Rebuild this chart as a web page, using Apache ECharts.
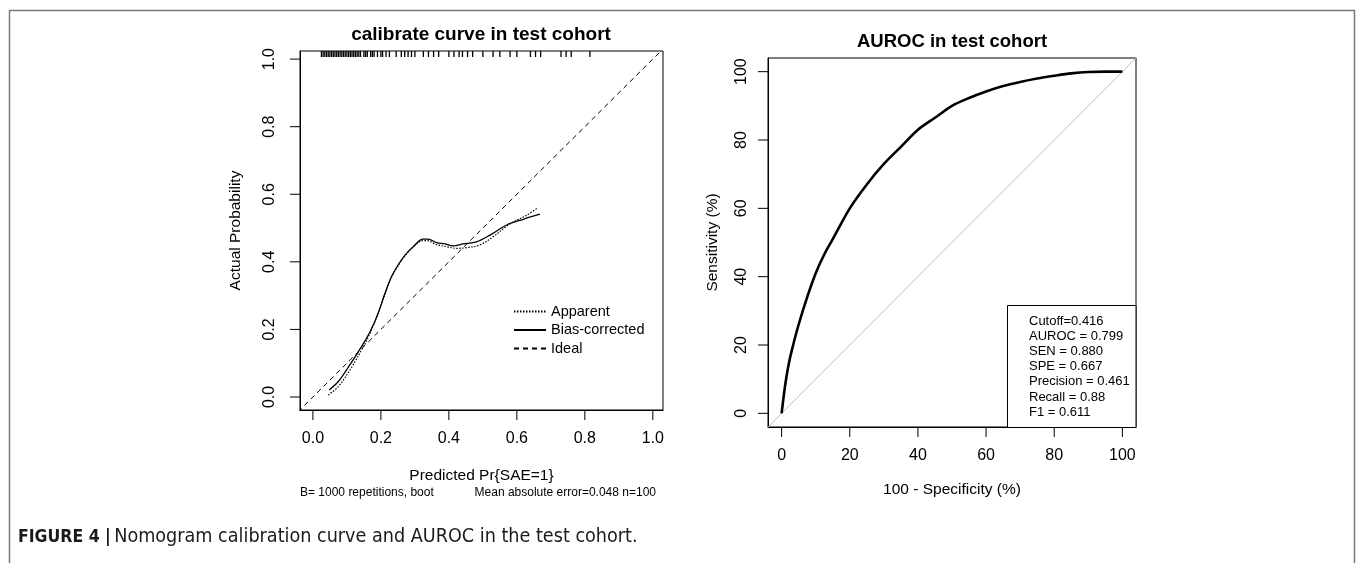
<!DOCTYPE html>
<html>
<head>
<meta charset="utf-8">
<script src="https://cdn.jsdelivr.net/npm/echarts@6/dist/echarts.min.js"></script>
<style>
html,body{margin:0;padding:0;background:#fff;}
#chart{width:1357px;height:563px;}
</style>
</head>
<body>
<div id="chart"></div>
<script>
// ---- Data: calibration panel ----
const apparentX = [0.045,0.074,0.109,0.143,0.163,0.192,0.212,0.231,0.251,0.271,0.295,0.320,0.335,0.364,0.393,0.423,0.452,0.491,0.530,0.579,0.629,0.663];
const apparentY = [0.006,0.030,0.080,0.139,0.178,0.248,0.305,0.354,0.389,0.418,0.443,0.462,0.463,0.451,0.445,0.440,0.442,0.450,0.474,0.512,0.538,0.561];
const biasX = [0.048,0.074,0.099,0.143,0.168,0.192,0.212,0.231,0.251,0.271,0.295,0.324,0.339,0.364,0.388,0.413,0.442,0.481,0.521,0.570,0.619,0.668];
const biasY = [0.021,0.045,0.080,0.149,0.193,0.248,0.307,0.356,0.391,0.420,0.445,0.467,0.467,0.457,0.453,0.447,0.453,0.459,0.479,0.509,0.526,0.541];
const idealPts = [-0.1, 1.1];
const rugValues = [0.025,0.03,0.035,0.04,0.045,0.05,0.055,0.06,0.065,0.07,0.075,0.08,0.085,0.09,0.095,0.10,0.105,0.11,0.115,0.12,0.125,0.13,0.135,0.14,0.15,0.155,0.16,0.17,0.175,0.18,0.19,0.20,0.205,0.215,0.225,0.245,0.26,0.27,0.28,0.29,0.30,0.325,0.34,0.355,0.37,0.40,0.415,0.43,0.44,0.455,0.47,0.50,0.53,0.55,0.58,0.60,0.64,0.655,0.67,0.73,0.745,0.76,0.815];
const calTicks = [0, 0.2, 0.4, 0.6, 0.8, 1.0];
const calTickLabels = ['0.0','0.2','0.4','0.6','0.8','1.0'];
const calNote1 = 'B= 1000 repetitions, boot';
const calNote2 = 'Mean absolute error=0.048 n=100';

// ---- Data: ROC panel ----
const rocFPR = [0,1,2,3,5,7.5,10,12.5,15,20,25,30,35,40,45,50,55,60,65,70,75,80,85,90,95,100];
const rocTPR = [0,8,14,18.5,26,34,41,46.5,51,60,67,73,78,83,86.5,90,92.3,94.2,95.8,97,98,98.8,99.5,99.9,100,100];
const rocDiag = [-10, 110];
const rocTicks = [0,20,40,60,80,100];
const rocStats = ['Cutoff=0.416','AUROC = 0.799','SEN = 0.880','SPE = 0.667','Precision = 0.461','Recall = 0.88','F1 = 0.611'];

const FONT = '"Liberation Sans", Arial, sans-serif';
const CAP_FONT = '"DejaVu Sans Condensed", "Liberation Sans Narrow", Arial, sans-serif';
const CAL_XMIN = -0.038, CAL_XMAX = 1.03, CAL_YMIN = -0.0385, CAL_YMAX = 1.024;
const ROC_MIN = -4, ROC_MAX = 104;
const TICK_LEN = 10;

const chart = echarts.init(document.getElementById('chart'), null, {renderer:'canvas'});

function axisCommon(){
  return {
    splitLine:{show:false},
    axisLine:{show:true, onZero:false, lineStyle:{color:'#000', width:1}},
    axisTick:{show:false},
    axisLabel:{color:'#000', fontFamily:FONT, fontSize:16},
    nameTextStyle:{color:'#000', fontFamily:FONT, fontSize:15.5}
  };
}
function pick(ticks, labels){
  return (v)=>{const i=ticks.findIndex(t=>Math.abs(t-v)<1e-9);return i>=0?labels[i]:'';};
}
// outward tick marks placed through the axis scales
function xTickSeries(gi, ticks, yMin){
  return {type:'custom', xAxisIndex:gi, yAxisIndex:gi, clip:false, silent:true,
    data:ticks.map(v=>[v, 0]),
    renderItem:(p, api)=>{
      const c = api.coord([api.value(0), yMin]);
      return {type:'line', shape:{x1:c[0], y1:c[1], x2:c[0], y2:c[1]+TICK_LEN}, style:{stroke:'#000', lineWidth:1}};
    }};
}
function yTickSeries(gi, ticks, xMin){
  return {type:'custom', xAxisIndex:gi, yAxisIndex:gi, clip:false, silent:true,
    data:ticks.map(v=>[0, v]),
    renderItem:(p, api)=>{
      const c = api.coord([xMin, api.value(1)]);
      return {type:'line', shape:{x1:c[0], y1:c[1], x2:c[0]-TICK_LEN, y2:c[1]}, style:{stroke:'#000', lineWidth:1}};
    }};
}

const calX = Object.assign(axisCommon(), {
  type:'value', gridIndex:0, position:'bottom', min:CAL_XMIN, max:CAL_XMAX,
  name:'Predicted Pr{SAE=1}', nameLocation:'middle', nameGap:58
});
Object.assign(calX.axisLabel, {customValues:calTicks, margin:21, formatter:pick(calTicks, calTickLabels)});

const calY = Object.assign(axisCommon(), {
  type:'value', gridIndex:0, position:'left', min:CAL_YMIN, max:CAL_YMAX,
  name:'Actual Probability', nameLocation:'middle', nameGap:56, nameRotate:90
});
Object.assign(calY.axisLabel, {customValues:calTicks, margin:22, rotate:90, formatter:pick(calTicks, calTickLabels)});

const rocX = Object.assign(axisCommon(), {
  type:'value', gridIndex:1, position:'bottom', min:ROC_MIN, max:ROC_MAX,
  name:'100 - Specificity (%)', nameLocation:'middle', nameGap:55
});
Object.assign(rocX.axisLabel, {customValues:rocTicks, margin:21});

const rocY = Object.assign(axisCommon(), {
  type:'value', gridIndex:1, position:'left', min:ROC_MIN, max:ROC_MAX,
  name:'Sensitivity (%)', nameLocation:'middle', nameGap:47, nameRotate:90
});
Object.assign(rocY.axisLabel, {customValues:rocTicks, margin:18, rotate:90});

const statsTop = 321, statsStep = 15.2;

const option = {
  backgroundColor:'#fff',
  animation:false,
  textStyle:{fontFamily:FONT},
  grid:[
    {left:300, top:51, width:363, height:359, show:true, borderColor:'#000', borderWidth:1, backgroundColor:'transparent'},
    {left:768, top:58, width:368, height:369, show:true, borderColor:'#000', borderWidth:1, backgroundColor:'transparent'}
  ],
  xAxis:[calX, rocX],
  yAxis:[calY, rocY],
  legend:{
    data:['Apparent','Bias-corrected','Ideal'],
    orient:'vertical', left:508, top:299,
    itemWidth:32, itemHeight:15, itemGap:3.5,
    selectedMode:false,
    itemStyle:{opacity:0},
    textStyle:{color:'#000', fontFamily:FONT, fontSize:14.5, lineHeight:15}
  },
  series:[
    {name:'Ideal', type:'line', xAxisIndex:0, yAxisIndex:0, symbol:'none', clip:true,
     data:idealPts.map(v=>[v,v]), lineStyle:{color:'#000', width:1, type:[5,4]}, itemStyle:{color:'#000'}},
    {name:'Apparent', type:'line', xAxisIndex:0, yAxisIndex:0, symbol:'none', smooth:0.35,
     data:apparentX.map((x,i)=>[x,apparentY[i]]), lineStyle:{color:'#000', width:1.2, type:[1.5,1.5]}, itemStyle:{color:'#000'}},
    {name:'Bias-corrected', type:'line', xAxisIndex:0, yAxisIndex:0, symbol:'none', smooth:0.35,
     data:biasX.map((x,i)=>[x,biasY[i]]), lineStyle:{color:'#000', width:1.3, type:'solid'}, itemStyle:{color:'#000'}},
    {name:'rug', type:'custom', xAxisIndex:0, yAxisIndex:0, clip:false, silent:true,
     data:rugValues.map(v=>[v,0]),
     renderItem:(params, api)=>{
       const p = api.coord([api.value(0), CAL_YMAX]);
       return {type:'line', shape:{x1:p[0], y1:p[1], x2:p[0], y2:p[1]+6}, style:{stroke:'#000', lineWidth:1.3}};
     }},
    xTickSeries(0, calTicks, CAL_YMIN),
    yTickSeries(0, calTicks, CAL_XMIN),
    {name:'diag', type:'line', xAxisIndex:1, yAxisIndex:1, symbol:'none', clip:true,
     data:rocDiag.map(v=>[v,v]), lineStyle:{color:'#bdbdbd', width:1}},
    {name:'ROC', type:'line', xAxisIndex:1, yAxisIndex:1, symbol:'none', smooth:0.3,
     data:rocFPR.map((x,i)=>[x,rocTPR[i]]), lineStyle:{color:'#000', width:2.6}},
    xTickSeries(1, rocTicks, ROC_MIN),
    yTickSeries(1, rocTicks, ROC_MIN)
  ],
  graphic:[
    {type:'polyline', silent:true, shape:{points:[[9.5,563],[9.5,10.5],[1354.5,10.5],[1354.5,563]]}, style:{stroke:'#7a7a7a', lineWidth:1.5, fill:null}},
    {type:'text', x:481, y:35, style:{text:'calibrate curve in test cohort', font:'bold 19px '+FONT, fill:'#000', textAlign:'center', textVerticalAlign:'middle'}},
    {type:'text', x:952, y:42, style:{text:'AUROC in test cohort', font:'bold 18.5px '+FONT, fill:'#000', textAlign:'center', textVerticalAlign:'middle'}},
    {type:'text', x:300, y:493, style:{text:calNote1, font:'12px '+FONT, fill:'#000', textAlign:'left', textVerticalAlign:'middle'}},
    {type:'text', x:656, y:493, style:{text:calNote2, font:'12px '+FONT, fill:'#000', textAlign:'right', textVerticalAlign:'middle'}},
    {type:'rect', shape:{x:1007.5, y:305.5, width:128.5, height:122}, style:{stroke:'#000', lineWidth:1, fill:'#fff'}, z:10},
    ...rocStats.map((s,i)=>({type:'text', z:11, x:1029, y:statsTop + i*statsStep,
       style:{text:s, font:'13px '+FONT, fill:'#000', textAlign:'left', textVerticalAlign:'middle'}})),
    {type:'text', x:18, y:537, style:{
      text:'{b|FIGURE 4 |} {n|Nomogram calibration curve and AUROC in the test cohort.}',
      textVerticalAlign:'middle',
      rich:{
        b:{fontFamily:CAP_FONT, fontWeight:'bold', fontSize:17.5, fill:'#1a1a1a'},
        n:{fontFamily:CAP_FONT, fontSize:19.6, fill:'#1a1a1a'}
      }}}
  ]
};
chart.setOption(option);
</script>
</body>
</html>
